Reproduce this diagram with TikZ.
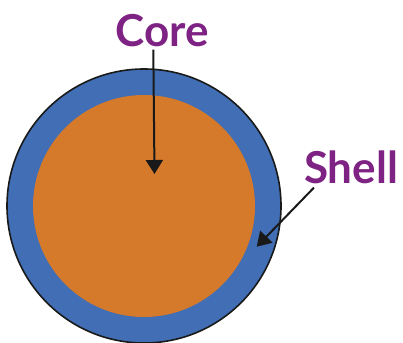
\documentclass[tikz,border=0pt]{standalone}
\usepackage{fontspec}
\setmainfont{Lato}
\usetikzlibrary{arrows.meta}
\definecolor{shellblue}{HTML}{416EB4}
\definecolor{coreorange}{HTML}{D57A2A}
\definecolor{labelpurple}{HTML}{7E2383}
\begin{document}
\begin{tikzpicture}[x=1pt,y=-1pt,
  lbl/.style={text=labelpurple,font=\fontsize{44}{44}\selectfont\bfseries,inner sep=0pt,anchor=base},
  pointer/.style={draw=black!90,line width=2pt,-{Triangle[length=14pt,width=17pt]}}]
\useasboundingbox (0,0) rectangle (403,342);
\fill[shellblue,draw=black!90,line width=1.6pt] (144,206) circle[radius=137];
\fill[coreorange] (144,206) circle[radius=111];
\node[lbl] (core) at (162.5,47) {Core};
\node[lbl] (shell) at (351,183) {Shell};
\coordinate (coretip) at (154.5,174);
\coordinate (shelltip) at (256.7,246.7);
\draw[pointer] ([shift={(-9.2,2)}]core.south) -- (coretip);
\draw[pointer] ([shift={(-37,4)}]shell.south) -- (shelltip);
\end{tikzpicture}
\end{document}
